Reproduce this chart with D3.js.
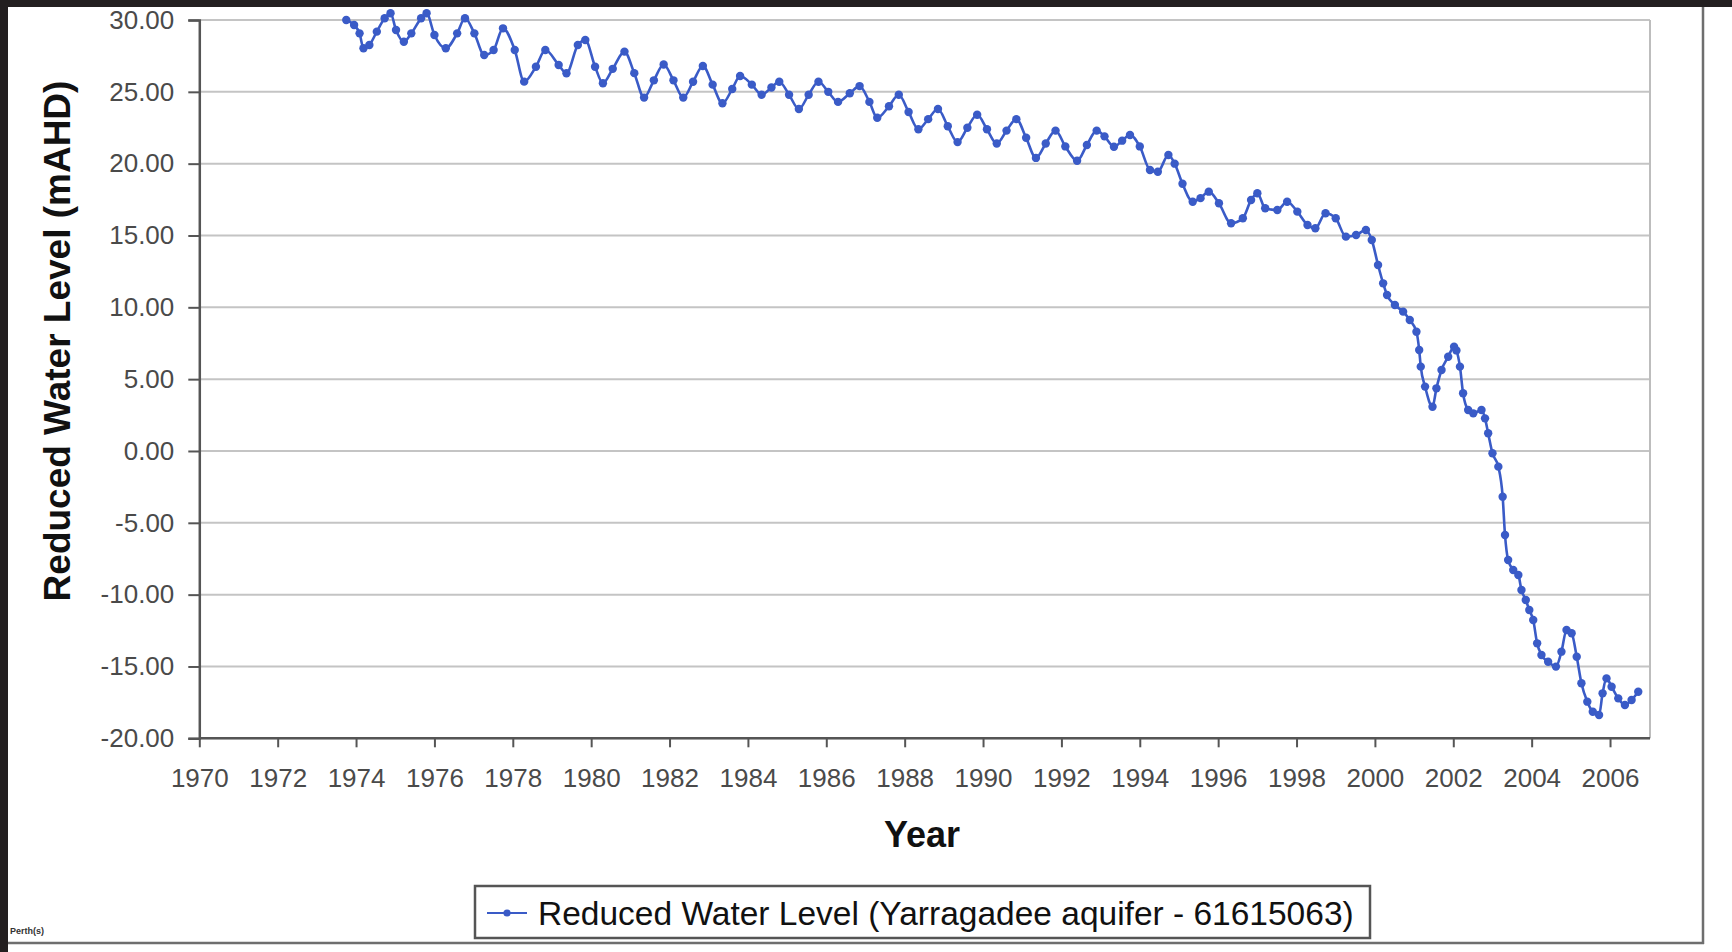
<!DOCTYPE html>
<html>
<head>
<meta charset="utf-8">
<script src="https://cdn.jsdelivr.net/npm/d3@7"></script>
<style>
    body { margin: 0; background: #fff; }
    svg { display: block; }
    text { font-family: "Liberation Sans", Arial, sans-serif; }
</style>
</head>
<body>
<div id="chart"></div>
<script>
// decimal years of each reading
const years = [
    1973.75, 1973.95, 1974.09, 1974.19, 1974.34, 1974.53, 1974.73, 1974.88,
    1975.02, 1975.22, 1975.41, 1975.66, 1975.8, 1976.0, 1976.29, 1976.58,
    1976.78, 1977.02, 1977.27, 1977.51, 1977.75, 1978.05, 1978.29, 1978.59,
    1978.83, 1979.17, 1979.37, 1979.66, 1979.85, 1980.1, 1980.3, 1980.55,
    1980.85, 1981.1, 1981.35, 1981.6, 1981.85, 1982.1, 1982.35, 1982.6,
    1982.85, 1983.1, 1983.35, 1983.6, 1983.8, 1984.1, 1984.35, 1984.6,
    1984.8, 1985.05, 1985.3, 1985.55, 1985.8, 1986.05, 1986.3, 1986.6,
    1986.85, 1987.1, 1987.3, 1987.6, 1987.85, 1988.1, 1988.35, 1988.6,
    1988.85, 1989.1, 1989.35, 1989.6, 1989.85, 1990.1, 1990.35, 1990.6,
    1990.85, 1991.1, 1991.35, 1991.6, 1991.85, 1992.1, 1992.4, 1992.65,
    1992.9, 1993.1, 1993.34, 1993.55, 1993.75, 1994.0, 1994.26, 1994.46,
    1994.73, 1994.89, 1995.09, 1995.35, 1995.55, 1995.76, 1996.02, 1996.33,
    1996.63, 1996.84, 1997.0, 1997.2, 1997.51, 1997.76, 1998.02, 1998.28,
    1998.48, 1998.74, 1999.0, 1999.26, 1999.52, 1999.77, 1999.92, 2000.08,
    2000.21, 2000.31, 2000.51, 2000.72, 2000.89, 2001.06, 2001.13, 2001.17,
    2001.28, 2001.47, 2001.57, 2001.7, 2001.87, 2002.02, 2002.08, 2002.17,
    2002.25, 2002.38, 2002.51, 2002.72, 2002.81, 2002.89, 2003.0, 2003.15,
    2003.26, 2003.32, 2003.4, 2003.53, 2003.66, 2003.74, 2003.85, 2003.94,
    2004.04, 2004.14, 2004.25, 2004.42, 2004.62, 2004.76, 2004.89, 2005.02,
    2005.15, 2005.27, 2005.42, 2005.56, 2005.72, 2005.81, 2005.91, 2006.04,
    2006.21, 2006.38, 2006.55, 2006.72
];

// reduced water level (mAHD)
const levels = [
    30.0, 29.65, 29.07, 28.03, 28.26, 29.19, 30.12, 30.47,
    29.3, 28.49, 29.07, 30.12, 30.47, 28.96, 28.03, 29.07,
    30.12, 29.07, 27.56, 27.91, 29.42, 27.91, 25.71, 26.75,
    27.91, 26.87, 26.29, 28.26, 28.61, 26.75, 25.6, 26.6,
    27.8, 26.3, 24.6, 25.8, 26.9, 25.8, 24.6, 25.7,
    26.8, 25.5, 24.2, 25.2, 26.1, 25.5, 24.8, 25.3,
    25.7, 24.8, 23.8, 24.8, 25.7, 25.0, 24.3, 24.9,
    25.4, 24.3, 23.2, 24.0, 24.8, 23.6, 22.4, 23.1,
    23.8, 22.6, 21.5, 22.5, 23.4, 22.4, 21.4, 22.3,
    23.1, 21.8, 20.4, 21.4, 22.3, 21.2, 20.2, 21.3,
    22.3, 21.9, 21.18, 21.6, 22.0, 21.2, 19.56, 19.44,
    20.6, 20.0, 18.6, 17.35, 17.6, 18.05, 17.24, 15.85,
    16.2, 17.47, 17.94, 16.9, 16.77, 17.35, 16.66, 15.73,
    15.5, 16.55, 16.2, 14.92, 15.03, 15.38, 14.69, 12.95,
    11.67, 10.86, 10.16, 9.7, 9.12, 8.3, 7.03, 5.87,
    4.48, 3.08, 4.36, 5.64, 6.56, 7.26, 7.0, 5.87,
    4.02, 2.85, 2.62, 2.85, 2.27, 1.23, -0.16, -1.09,
    -3.18, -5.85, -7.59, -8.29, -8.63, -9.68, -10.37, -11.07,
    -11.77, -13.39, -14.2, -14.67, -15.01, -13.97, -12.46, -12.69,
    -14.32, -16.17, -17.45, -18.15, -18.38, -16.87, -15.83, -16.41,
    -17.22, -17.68, -17.33, -16.76
];

const xTicks = [1970, 1972, 1974, 1976, 1978, 1980, 1982, 1984, 1986,
    1988, 1990, 1992, 1994, 1996, 1998, 2000, 2002, 2004, 2006];
const yTicks = [-20, -15, -10, -5, 0, 5, 10, 15, 20, 25, 30];

const seriesName = "Reduced Water Level (Yarragadee aquifer - 61615063)";

function renderChart() {
    const width = 1732;
    const height = 952;
    const blue = "#3a5bc7";

    const data = years.map((yr, i) => ({ year: yr, level: levels[i] }));

    const x = d3.scaleLinear().domain([1970, 2007.02]).range([199.3, 1650]);
    const y = d3.scaleLinear().domain([-20, 30]).range([738.3, 20]);

    const svg = d3
        .select("#chart")
        .append("svg")
        .attr("width", width)
        .attr("height", height);

    svg.append("rect")
        .attr("width", width)
        .attr("height", height)
        .attr("fill", "#fff");

    // outer chart frame
    svg.append("line")
        .attr("x1", 8).attr("x2", 1704)
        .attr("y1", 943).attr("y2", 943)
        .attr("stroke", "#6e6e6e").attr("stroke-width", 2.5);
    svg.append("line")
        .attr("x1", 1703).attr("x2", 1703)
        .attr("y1", 0).attr("y2", 944)
        .attr("stroke", "#6e6e6e").attr("stroke-width", 2.5);

    // dark edges of the screenshot
    svg.append("rect").attr("x", 0).attr("y", 0)
        .attr("width", width).attr("height", 7).attr("fill", "#231f20");
    svg.append("rect").attr("x", 0).attr("y", 0)
        .attr("width", 8).attr("height", height).attr("fill", "#231f20");

    // gridlines
    svg.append("g")
        .selectAll("line")
        .data(yTicks)
        .enter()
        .append("line")
        .attr("x1", x(1970))
        .attr("x2", x.range()[1])
        .attr("y1", (d) => y(d))
        .attr("y2", (d) => y(d))
        .attr("stroke", "#c4c4c4")
        .attr("stroke-width", 2);

    // plot area right border
    svg.append("line")
        .attr("x1", x.range()[1]).attr("x2", x.range()[1])
        .attr("y1", y(30)).attr("y2", y(-20))
        .attr("stroke", "#bdbdbd").attr("stroke-width", 2);

    const yAxis = svg.append("g")
        .attr("transform", `translate(${x(1970)},0)`)
        .call(d3.axisLeft(y).tickValues(yTicks).tickSize(11).tickPadding(14)
            .tickFormat((d) => d.toFixed(2)));

    const xAxis = svg.append("g")
        .attr("transform", `translate(0,${y(-20)})`)
        .call(d3.axisBottom(x).tickValues(xTicks).tickSize(9).tickPadding(21)
            .tickFormat((d) => String(d)));

    [xAxis, yAxis].forEach((ax) => {
        ax.select(".domain").attr("stroke", "#555").attr("stroke-width", 2.5);
        ax.selectAll(".tick line").attr("stroke", "#555").attr("stroke-width", 2);
        ax.selectAll(".tick text")
            .style("font-family", "'Liberation Sans', Arial, sans-serif")
            .style("font-size", "26px")
            .attr("fill", "#4a4a4a");
    });
    xAxis.select(".domain").attr("d", `M${x(1970)},0H${x.range()[1]}`);

    // axis titles
    svg.append("text")
        .attr("transform", `translate(70,341) rotate(-90)`)
        .attr("text-anchor", "middle")
        .style("font-size", "37px")
        .style("font-weight", "bold")
        .attr("fill", "#111")
        .text("Reduced Water Level (mAHD)");

    svg.append("text")
        .attr("x", 922)
        .attr("y", 847)
        .attr("text-anchor", "middle")
        .style("font-size", "36px")
        .style("font-weight", "bold")
        .attr("fill", "#111")
        .text("Year");

    // series
    const line = d3.line()
        .x((d) => x(d.year))
        .y((d) => y(d.level))
        .curve(d3.curveMonotoneX);

    svg.append("path")
        .datum(data)
        .attr("d", line)
        .attr("fill", "none")
        .attr("stroke", blue)
        .attr("stroke-width", 2.6);

    svg.append("g")
        .selectAll("circle")
        .data(data)
        .enter()
        .append("circle")
        .attr("cx", (d) => x(d.year))
        .attr("cy", (d) => y(d.level))
        .attr("r", 4.2)
        .attr("fill", blue);

    // legend
    const legend = svg.append("g");
    legend.append("rect")
        .attr("x", 475).attr("y", 886)
        .attr("width", 895).attr("height", 52)
        .attr("fill", "#fff")
        .attr("stroke", "#555")
        .attr("stroke-width", 2.5);
    legend.append("line")
        .attr("x1", 487).attr("x2", 527)
        .attr("y1", 913).attr("y2", 913)
        .attr("stroke", blue).attr("stroke-width", 2);
    legend.append("circle")
        .attr("cx", 507).attr("cy", 913).attr("r", 3.6)
        .attr("fill", blue);
    legend.append("text")
        .attr("x", 538)
        .attr("y", 925)
        .style("font-size", "33.5px")
        .attr("fill", "#111")
        .text(seriesName);

    svg.append("text")
        .attr("x", 10)
        .attr("y", 934)
        .style("font-size", "9px")
        .style("font-weight", "bold")
        .attr("fill", "#333")
        .text("Perth(s)");
}

renderChart();
</script>
</body>
</html>
